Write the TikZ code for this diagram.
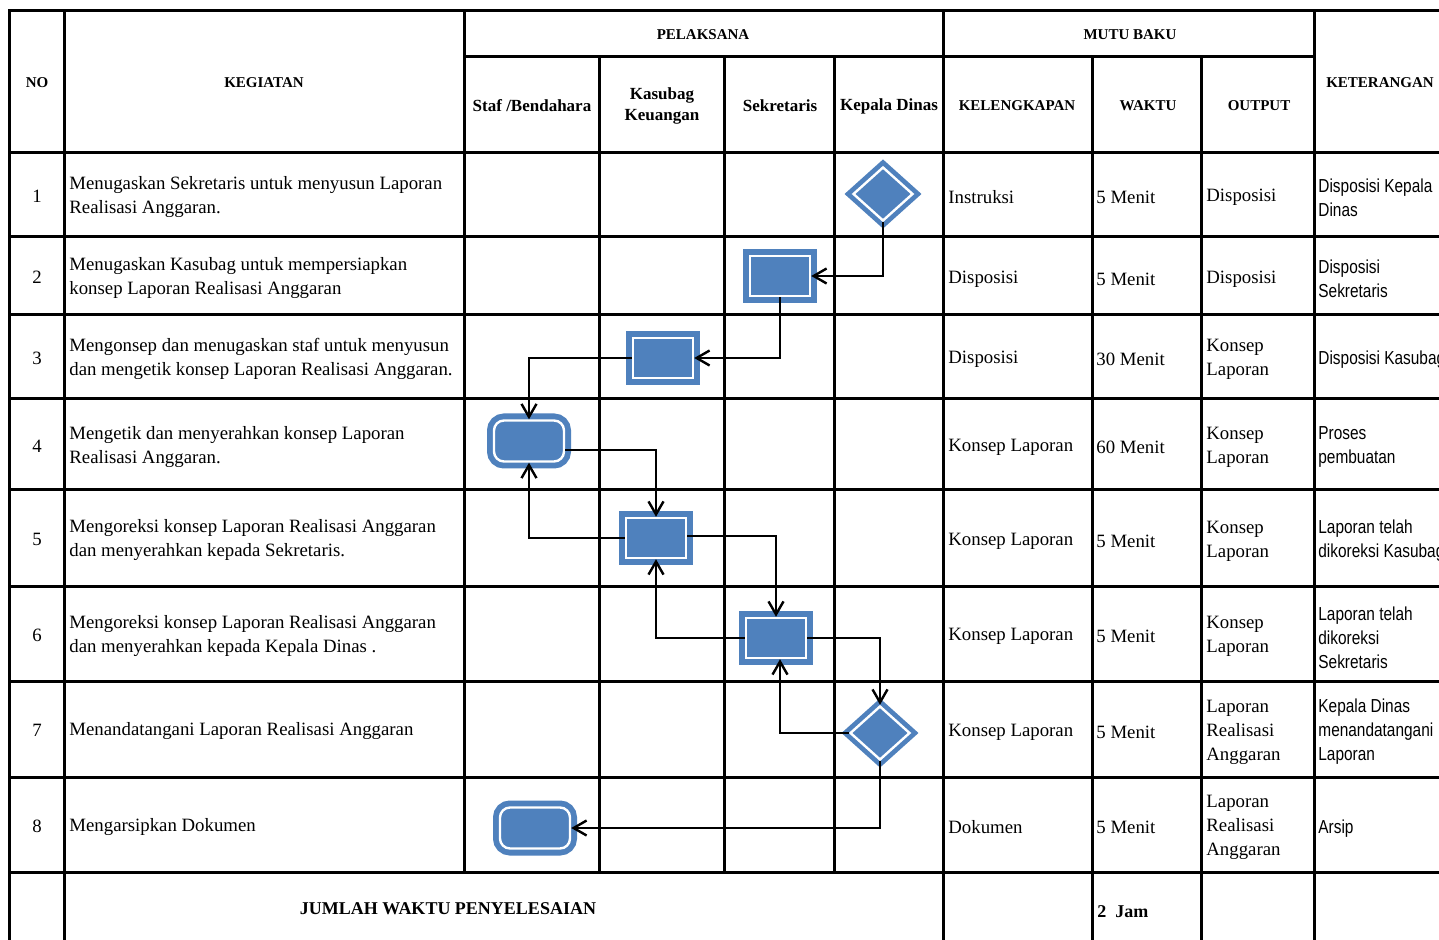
\documentclass[tikz,border=0pt]{standalone}
\usepackage{fontspec}
\setmainfont{Liberation Serif}
\newfontfamily\narrowsf[FakeStretch=0.82]{Liberation Sans}
\usepackage{xcolor}
\definecolor{procblue}{HTML}{4F81BD}
\usepackage{tikz}
\usetikzlibrary{positioning,shapes.geometric,arrows.meta}
\tikzset{>={Straight Barb[length=6.5pt,width=7.5pt,line width=1.2pt]}}
\tikzset{
  tablerule/.style={draw=black, line width=1.5pt, line cap=rect},
  head/.style     ={ font=\bfseries\fontsize{7.5}{9}\selectfont, align=center, inner sep=0pt, yshift=-0.5pt },
  lane/.style     ={ font=\bfseries\fontsize{8.5}{10.5}\selectfont, align=center, inner sep=0pt, yshift=-0.5pt },
  body/.style     ={ font=\fontsize{9.4}{12}\selectfont, align=left, anchor=west, inner sep=0pt, yshift=-1pt },
  note/.style     ={ font=\narrowsf\fontsize{9.4}{12}\selectfont, align=left, anchor=west, inner sep=0pt, yshift=-1pt },
  num/.style      ={ font=\fontsize{9.4}{12}\selectfont, inner sep=0pt, yshift=-0.5pt },
  process/.style  ={ rectangle, minimum width=30pt, minimum height=20pt, inner sep=0pt,
                     fill=procblue, draw=white, line width=1.2pt,
                     preaction={draw=procblue, line width=7pt} },
  terminal/.style ={ process, minimum width=35pt, minimum height=20.5pt, rounded corners=5pt },
  decision/.style ={ diamond, minimum width=30pt, minimum height=27pt, inner sep=0pt,
                     fill=procblue, draw=white, line width=1.2pt,
                     preaction={draw=procblue, line width=6pt} },
  flow/.style={->, draw=black, line width=1pt}
}

\begin{document}
\begin{tikzpicture}[x=0.5pt,y=-0.5pt]
        \useasboundingbox (0,0) rectangle (1439,940);
        \clip (0,0) rectangle (1439,940);
        \fill[white] (0,0) rectangle (1439,940);
        % table rules
        \foreach \y in {11,153,237,315,399,490,586,681,777,872}
          \draw[tablerule] (9,\y) -- (1450,\y);
        \draw[tablerule] (464,57) -- (1314,57);
        \foreach \x in {9,64,943,1314}
          \draw[tablerule] (\x,11) -- (\x,950);
        \draw[tablerule] (464,11) -- (464,872);
        \foreach \x in {599,724,834}
          \draw[tablerule] (\x,57) -- (\x,872);
        \foreach \x in {1092,1201}
          \draw[tablerule] (\x,57) -- (\x,950);
        % header
        \node[head] (hNo) at (37, 82) {NO};
        \node[head] (hKeg) at (264, 82) {KEGIATAN};
        \node[head] (hPel) at (703, 34) {PELAKSANA};
        \node[head] (hMutu) at (1130, 34) {MUTU BAKU};
        \node[head] (hKet) at (1380, 82) {KETERANGAN};
        \node[lane] (hStaf) at (532, 105) {Staf /Bendahara};
        \node[lane] (hKasubag) at (662, 105) {Kasubag\\Keuangan};
        \node[lane] (hSek) at (780, 105) {Sekretaris};
        \node[lane] (hKadis) at (889, 105) {Kepala Dinas};
        \node[head] (hLengkap) at (1017, 105) {KELENGKAPAN};
        \node[head] (hWaktu) at (1148, 105) {WAKTU};
        \node[head] (hOutput) at (1259, 105) {OUTPUT};
        % nomor
        \node[num] (n1) at (37, 195) {1};
        \node[num] (n2) at (37, 276) {2};
        \node[num] (n3) at (37, 357) {3};
        \node[num] (n4) at (37, 445) {4};
        \node[num] (n5) at (37, 538) {5};
        \node[num] (n6) at (37, 634) {6};
        \node[num] (n7) at (37, 729) {7};
        \node[num] (n8) at (37, 825) {8};
        % kegiatan
        \node[body] (k1) at (69, 195) {Menugaskan Sekretaris untuk menyusun Laporan\\Realisasi Anggaran.};
        \node[body] (k2) at (69, 276) {Menugaskan Kasubag untuk mempersiapkan\\konsep Laporan Realisasi Anggaran};
        \node[body] (k3) at (69, 357) {Mengonsep dan menugaskan staf untuk menyusun\\dan mengetik konsep Laporan Realisasi Anggaran.};
        \node[body] (k4) at (69, 445) {Mengetik dan menyerahkan konsep Laporan\\Realisasi Anggaran.};
        \node[body] (k5) at (69, 538) {Mengoreksi konsep Laporan Realisasi Anggaran\\dan menyerahkan kepada Sekretaris.};
        \node[body] (k6) at (69, 634) {Mengoreksi konsep Laporan Realisasi Anggaran\\dan menyerahkan kepada Kepala Dinas .};
        \node[body] (k7) at (69, 729) {Menandatangani Laporan Realisasi Anggaran};
        \node[body] (k8) at (69, 825) {Mengarsipkan Dokumen};
        % kelengkapan
        \node[body] (l1) at (948, 195) {Instruksi};
        \node[body] (l2) at (948, 277) {Disposisi};
        \node[body] (l3) at (948, 357) {Disposisi};
        \node[body] (l4) at (948, 445) {Konsep Laporan};
        \node[body] (l5) at (948, 539) {Konsep Laporan};
        \node[body] (l6) at (948, 634) {Konsep Laporan};
        \node[body] (l7) at (948, 730) {Konsep Laporan};
        \node[body] (l8) at (948, 825) {Dokumen};
        % waktu
        \node[body] (w1) at (1096, 195) {5 Menit};
        \node[body] (w2) at (1096, 277) {5 Menit};
        \node[body] (w3) at (1096, 357) {30 Menit};
        \node[body] (w4) at (1096, 445) {60 Menit};
        \node[body] (w5) at (1096, 539) {5 Menit};
        \node[body] (w6) at (1096, 634) {5 Menit};
        \node[body] (w7) at (1096, 730) {5 Menit};
        \node[body] (w8) at (1096, 825) {5 Menit};
        % output
        \node[body] (o1) at (1206, 195) {Disposisi};
        \node[body] (o2) at (1206, 277) {Disposisi};
        \node[body] (o3) at (1206, 357) {Konsep\\Laporan};
        \node[body] (o4) at (1206, 445) {Konsep\\Laporan};
        \node[body] (o5) at (1206, 539) {Konsep\\Laporan};
        \node[body] (o6) at (1206, 634) {Konsep\\Laporan};
        \node[body] (o7) at (1206, 730) {Laporan\\Realisasi\\Anggaran};
        \node[body] (o8) at (1206, 825) {Laporan\\Realisasi\\Anggaran};
        % keterangan
        \node[note] (ket1) at (1318, 196) {Disposisi Kepala\\Dinas};
        \node[note] (ket2) at (1318, 277) {Disposisi\\Sekretaris};
        \node[note] (ket3) at (1318, 358) {Disposisi Kasubag};
        \node[note] (ket4) at (1318, 445) {Proses\\pembuatan};
        \node[note] (ket5) at (1318, 539) {Laporan telah\\dikoreksi Kasubag};
        \node[note] (ket6) at (1318, 636) {Laporan telah\\dikoreksi\\Sekretaris};
        \node[note] (ket7) at (1318, 730) {Kepala Dinas\\menandatangani\\Laporan};
        \node[note] (ket8) at (1318, 827) {Arsip};
        % jumlah
        \node[lane, font=\bfseries\fontsize{9}{11}\selectfont] (total) at (448, 908) {JUMLAH WAKTU PENYELESAIAN};
        \node[body, font=\bfseries\fontsize{9}{11}\selectfont] (totalW) at (1097, 910) {2\enspace Jam};
        % alur
        \node[decision] (d1) at (883, 194) {};
        \node[process] (r2) at (780, 276) {};
        \node[process] (r3) at (663, 358) {};
        \node[terminal] (t4) at (529, 441) {};
        \node[process] (r5) at (656, 538) {};
        \node[process] (r6) at (776, 638) {};
        \node[decision] (d7) at (880, 733) {};
        \node[terminal] (t8) at (535, 828) {};
        \draw[flow] (d1.south) |- (r2.east);
        \draw[flow] (r2.south) |- (r3.east);
        \draw[flow] (r3.west) -| (t4.north);
        \draw[flow] ([yshift=-4.5pt]t4.east) -| (r5.north);
        \draw[flow] (r5.west) -| (t4.south);
        \draw[flow] ([yshift=1pt]r5.east) -| (r6.north);
        \draw[flow] (r6.west) -| (r5.south);
        \draw[flow] (r6.east) -| (d7.north);
        \draw[flow] (d7.west) -| ([xshift=2pt]r6.south);
        \draw[flow] (d7.south) |- (t8.east);
      \end{tikzpicture}
\end{document}
